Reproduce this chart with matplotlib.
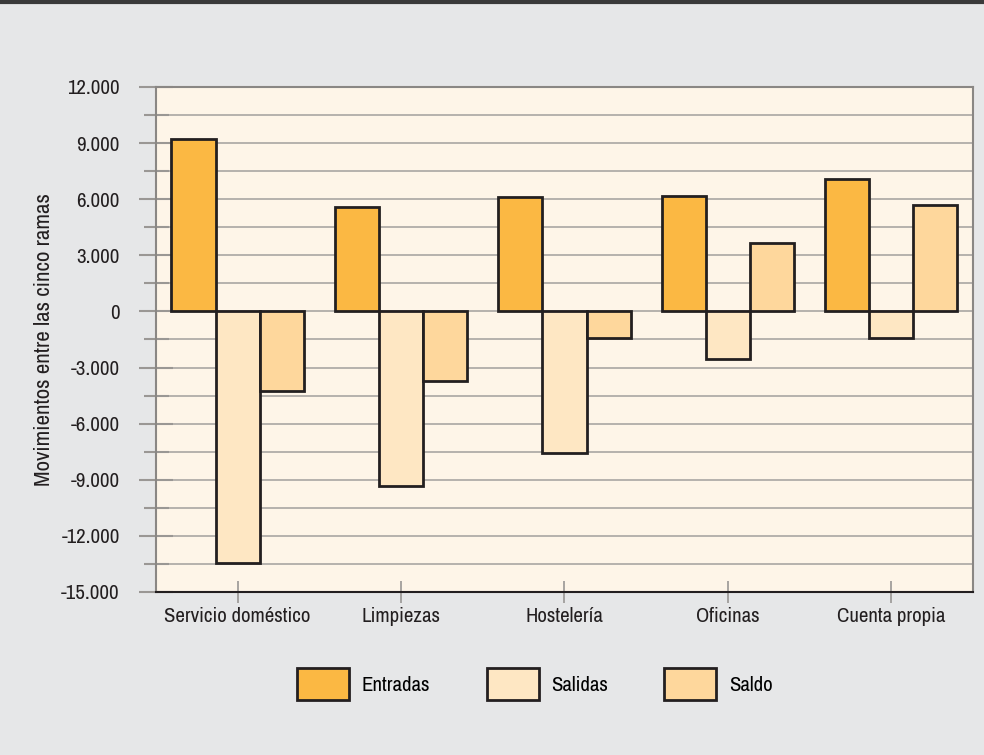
import numpy as np
import matplotlib.pyplot as plt
from matplotlib import font_manager
from matplotlib.patches import Patch
from matplotlib.lines import Line2D
from matplotlib.ticker import MultipleLocator, FuncFormatter

# pick a narrow family if one is installed
nombres = sorted({f.name for f in font_manager.fontManager.ttflist})
estrechas = [n for n in nombres if 'Narrow' in n or 'Condensed' in n]
plt.rcParams['font.family'] = estrechas[:1] + ['DejaVu Sans']
plt.rcParams['font.stretch'] = 'condensed'
plt.rcParams['font.weight'] = 'medium'

categorias = ['Servicio doméstico', 'Limpiezas', 'Hostelería', 'Oficinas', 'Cuenta propia']
entradas = [9200, 5600, 6120, 6180, 7090]
salidas = [-13450, -9340, -7550, -2540, -1410]
saldo = [-4230, -3700, -1410, 3640, 5670]
series = ['Entradas', 'Salidas', 'Saldo']

col_ent = '#fbb843'
col_sal = '#fee7c3'
col_sdo = '#fed79c'
edge = '#231f20'
grid_col = '#a9a6a3'
fs = 15

fig = plt.figure(figsize=(9.84, 7.55), dpi=100)
fig.patch.set_facecolor('#e6e7e8')
ax = fig.add_axes([0.1585, 0.2159, 0.8303, 0.6689])
ax.set_facecolor('#fef5e8')

x = np.arange(len(categorias))
w = 0.27
for off, vals, c in [(-w, entradas, col_ent), (0, salidas, col_sal), (w, saldo, col_sdo)]:
    ax.bar(x + off, vals, width=w, color=c, edgecolor=edge, linewidth=2, zorder=3)

ax.set_xlim(-0.5, 4.5)
ax.set_ylim(-15000, 12000)
ax.yaxis.set_major_locator(MultipleLocator(3000))
ax.yaxis.set_minor_locator(MultipleLocator(1500))
ax.yaxis.set_major_formatter(FuncFormatter(lambda v, p: f'{int(v):,}'.replace(',', '.')))
ax.grid(True, axis='y', which='both', color=grid_col, linewidth=1.2, zorder=1)
ax.set_axisbelow(True)

ax.set_xticks(x)
ax.set_xticklabels(categorias, fontsize=fs, color='#231f20')
ax.tick_params(axis='y', which='major', direction='inout', length=24, width=1.5,
               color='#9a9794', labelsize=fs, labelcolor='#231f20', pad=14)
ax.tick_params(axis='y', which='minor', direction='inout', length=18, width=1.5,
               color='#9a9794')
ax.tick_params(axis='x', direction='inout', length=16, width=1.2, color='#9a9794', pad=3)

for s in ['top', 'right', 'left']:
    ax.spines[s].set_color('#8a8784')
    ax.spines[s].set_linewidth(1.5)
ax.spines['bottom'].set_color(edge)
ax.spines['bottom'].set_linewidth(1.5)

ax.set_ylabel('Movimientos entre las cinco ramas', fontsize=16.5, color='#231f20', labelpad=5)

handles = [Patch(facecolor=c, edgecolor=edge, linewidth=2) for c in (col_ent, col_sal, col_sdo)]
fig.legend(handles, series, loc='center left', bbox_to_anchor=(0.283, 0.094), ncol=3,
           frameon=False, fontsize=fs, handlelength=2.5, handleheight=2.0,
           handletextpad=0.6, columnspacing=2.7)

fig.add_artist(Line2D([0, 1], [0.998, 0.998], color='#3a3a3a', linewidth=3,
                      transform=fig.transFigure))

fig.savefig('out.png', dpi=100, facecolor=fig.get_facecolor())
